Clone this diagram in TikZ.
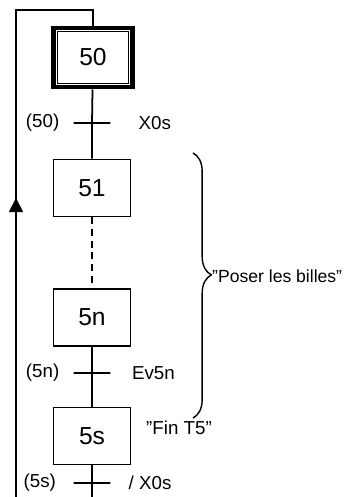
\documentclass[tikz,border=0pt]{standalone}
\usepackage{fontspec}
\setmainfont{Liberation Sans}
\usetikzlibrary{arrows.meta,decorations.pathreplacing,positioning}
\tikzset{
  etape/.style={draw, line width=1.3pt, minimum width=2.31cm, minimum height=1.71cm, inner sep=0pt, font=\fontsize{21}{24}\selectfont},
  etapeinit/.style={etape, line width=4pt, minimum width=2.36cm, minimum height=1.77cm},
  transit/.style={draw, line width=1.4pt, minimum width=1.1cm, minimum height=0pt, inner sep=0pt},
  lien/.style={line width=1.5pt},
  lbl/.style={inner sep=0pt, font=\fontsize{16}{19}\selectfont},
}

\begin{document}
\begin{tikzpicture}[x=0.03cm, y=-0.03cm]
    \useasboundingbox (0,0) rectangle (344,497);
    % steps
    \node [etapeinit] (s50) at (93,57.5) {50};
    \draw [line width=0.7pt] ([shift={(0.18cm,0.18cm)}]s50.south west) rectangle ([shift={(-0.18cm,-0.18cm)}]s50.north east);
    \node [etape] (s51) at (92,188) {51};
    \node [etape] (s5n) at (92,317.5) {5n};
    \node [etape] (s5s) at (92,436) {5s};
    % transitions
    \node [transit] (t50) at (92,123) {};
    \node [transit] (t5n) at (92,373) {};
    \node [transit] (t5s) at (92,483) {};
    % line
    \coordinate (bas) at (92,497);
    \coordinate (gbas) at (16,497);\coordinate (ghaut) at (16,10);\coordinate (dhaut) at (93,10);
    \draw [lien] (s50) -- (t50) -- (s51);
    \draw [lien, dash pattern=on 6pt off 4pt] (s51) -- (s5n);
    \draw [lien] (s5n) -- (t5n) -- (s5s);
    \draw [lien] (s5s) -- (t5s) -- (bas);
    \draw [lien] (gbas) -- (ghaut) -- (dhaut) -- (s50);
    % arrow
    \coordinate (fb) at (16,214);\coordinate (fh) at (16,198);
    \draw [lien, -{Triangle[length=0.42cm,width=0.42cm]}] (fb) -- (fh);
    % lecter
    \node [lbl, left=0.4cm of t50] (r50) {(50)};\node [lbl, right=0.82cm of t50] (c50) {X0s};
    \node [lbl, left=0.4cm of t5n] (r5n) {(5n)};\node [lbl, right=0.62cm of t5n] (c5n) {Ev5n};
    \node [lbl, left=0.5cm of t5s] (r5s) {(5s)};\node [lbl, right=0.52cm of t5s] (c5s) {/ X0s};
    \node [lbl, anchor=west] (fin) at (146,428) {"Fin T5"};
    % brace
    \coordinate (bh) at (193,153);\coordinate (bb) at (193,418);
    \draw [line width=1.2pt, decorate, decoration={brace, amplitude=0.55cm, aspect=0.46}] (bh) -- (bb);
    \node [lbl, anchor=west, font=\fontsize{15}{18}\selectfont] (poser) at (212,276) {"Poser les billes"};
\end{tikzpicture}
\end{document}
